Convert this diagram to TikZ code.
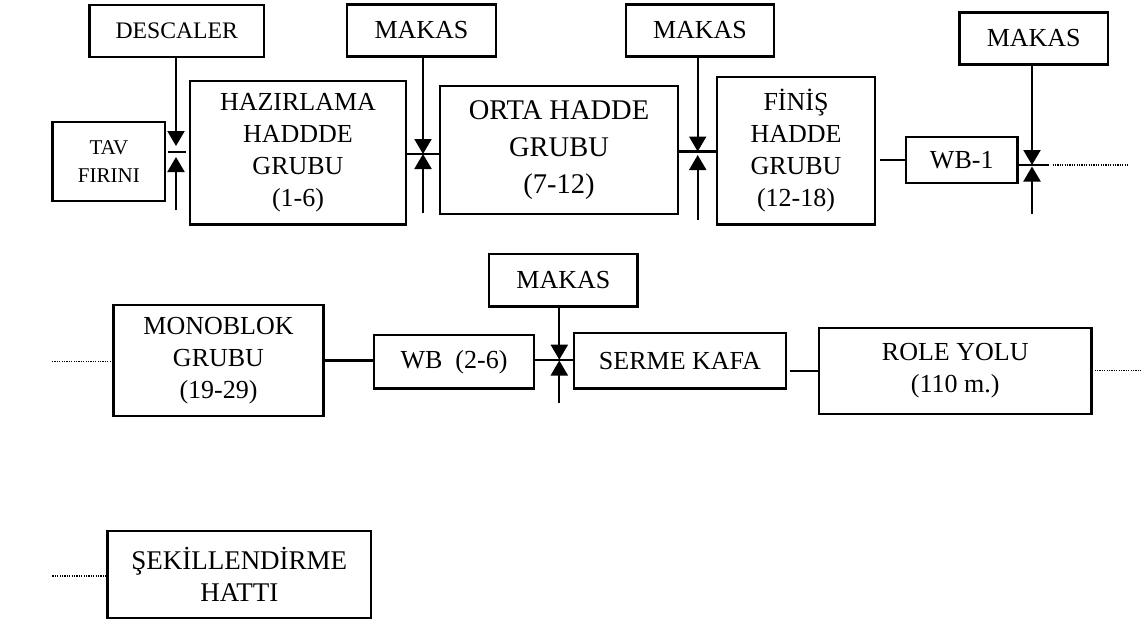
\documentclass[tikz,border=0pt]{standalone}
\usepackage{fontspec}
\setmainfont{Liberation Serif}
\usetikzlibrary{arrows.meta}

\begin{document}
\begin{tikzpicture}[x=1pt, y=-1pt,
    box/.style={draw, line width=2.1pt, align=center, inner sep=0pt,
      font=\fontsize{26}{32}\selectfont},
    cut/.style={line width=2.1pt, -{Triangle[length=15pt, width=17pt]}},
    feed/.style={line width=2.1pt},
    more/.style={line width=1.6pt, dash pattern=on 1.2pt off 1.2pt}]
  \useasboundingbox (0,0) rectangle (1142,621);
%    \tikzstyle{every node} = [draw]
  % first line
  \node [box, minimum width=174.5pt, minimum height=51.7pt,
    font=\fontsize{23.7}{28}\selectfont] (descaler) at (176.75, 30.85) {DESCALER};
  \node [box, minimum width=149pt, minimum height=52pt] (makasA) at (421.5, 30.5) {MAKAS};
  \node [box, minimum width=148pt, minimum height=52pt] (makasB) at (700, 30.5) {MAKAS};
  \node [box, minimum width=148.5pt, minimum height=52pt] (makasC) at (1033.75, 38.5) {MAKAS};
  \node [box, minimum width=112.8pt, minimum height=79pt,
    font=\fontsize{21}{28}\selectfont] (tav) at (108.9, 161.5) {TAV\\FIRINI};
  \node [box, minimum width=216pt, minimum height=143.8pt] (haz) at (298, 152.6)
    {HAZIRLAMA\\HADDDE\\GRUBU\\(1-6)};
  \node [box, minimum width=238pt, minimum height=127.6pt,
    font=\fontsize{28.5}{37}\selectfont] (orta) at (559, 149.8) {ORTA HADDE\\GRUBU\\(7-12)};
  \node [box, minimum width=158pt, minimum height=147.5pt] (finis) at (796, 150.75)
    {FİNİŞ\\HADDE\\GRUBU\\(12-18)};
  \node [box, minimum width=111.5pt, minimum height=46.3pt] (wbone) at (961.75, 159.85) {WB-1};

  % second line
  \node [box, minimum width=148.2pt, minimum height=52.2pt] (makasD) at (563.4, 280.4) {MAKAS};
  \node [box, minimum width=210pt, minimum height=111pt] (mono) at (218.5, 360.5)
    {MONOBLOK\\GRUBU\\(19-29)};
  \node [box, minimum width=160pt, minimum height=53.5pt] (wbtwo) at (454, 361.75)
    {WB\hspace{0.5em}(2-6)};
  \node [box, minimum width=212pt, minimum height=55.5pt] (serme) at (680, 360.75) {SERME KAFA};
  \node [box, minimum width=272.5pt, minimum height=86pt] (role) at (955.25, 371)
    {ROLE YOLU\\(110 m.)};

  % third line
  \node [box, minimum width=263.5pt, minimum height=87.3pt,
    font=\fontsize{27}{32}\selectfont] (sekil) at (239.25, 574.35) {ŞEKİLLENDİRME\\HATTI};

  % descaler
  \coordinate (dhit) at (176, 146);
  \coordinate (dtip) at (176, 157);
  \coordinate (dend) at (176, 210);
  \coordinate (bar0) at (167.5, 152);
  \coordinate (bar1) at (186, 152);
  \draw [cut] (descaler.south -| dhit) -- (dhit);
  \draw [feed] (bar0) -- (bar1);
  \draw [cut] (dend) -- (dtip);

  % shears
  \foreach \m/\x/\ya/\yb/\yc in {makasA/423/154/154/213, makasB/697.7/151.5/155/220,
      makasC/1032/165/166.5/213.5, makasD/559.3/359.7/360.5/402.7} {
    \coordinate (\m-hit) at (\x, \ya);
    \coordinate (\m-tip) at (\x, \yb);
    \coordinate (\m-end) at (\x, \yc);
    \draw [cut] (\m.south -| \m-hit) -- (\m-hit);
    \draw [cut] (\m-end) -- (\m-tip);
  }

  \draw [feed] (haz.east |- makasA-hit) -- (orta.west |- makasA-hit);
  \draw [feed] (orta.east |- makasB-hit) -- (finis.west |- makasB-hit);
  \draw [feed] ([xshift=4pt]finis.east |- wbone.west) -- (wbone.west);
  \coordinate (wbout) at (1049, 165);
  \coordinate (toend) at (1127, 165);
  \draw [feed] (wbone.east |- makasC-hit) -- (wbout);
  \draw [more] ([xshift=3.5pt]wbout) -- (toend);

  \coordinate (monoin) at (52, 361.5);
  \draw [more] (monoin) -- (mono.west |- monoin);
  \draw [feed] (mono.east) -- (wbtwo.west |- mono.east);
  \draw [feed] (wbtwo.east |- makasD-hit) -- ([xshift=2pt]serme.west |- makasD-hit);
  \draw [feed] ([xshift=3pt]serme.east |- role.west) -- (role.west);
  \coordinate (roleout) at (1141, 370.5);
  \draw [more] ([xshift=2pt]role.east |- roleout) -- (roleout);

  \coordinate (sekilin) at (52.4, 576);
  \draw [more] (sekilin) -- (sekil.west |- sekilin);
\end{tikzpicture}
\end{document}
